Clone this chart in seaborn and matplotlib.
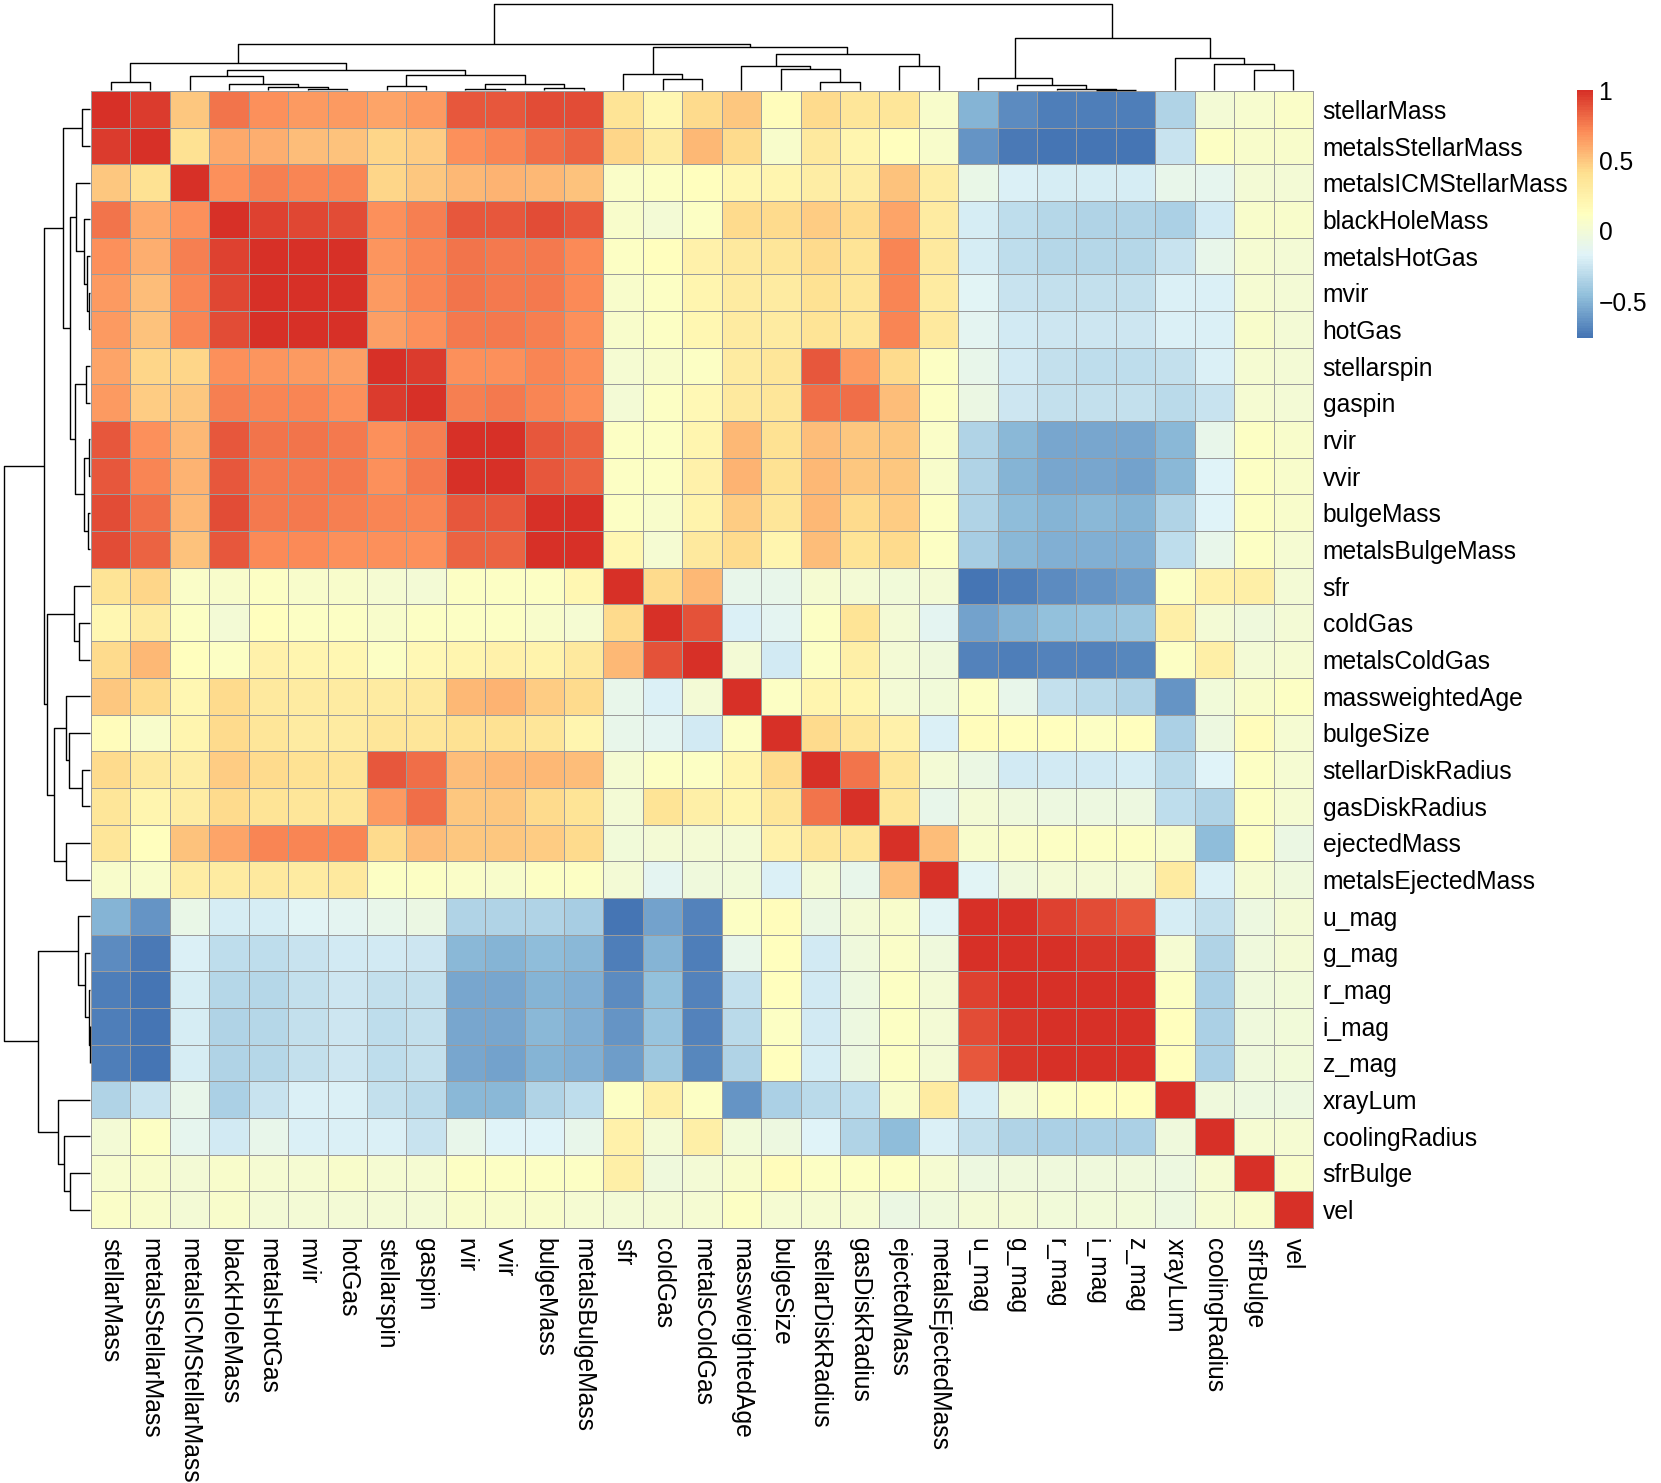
import numpy as np
import pandas as pd
import matplotlib
matplotlib.use("Agg")
import matplotlib.pyplot as plt
import seaborn as sns
from matplotlib.colors import LinearSegmentedColormap

# ---------------- data ----------------
variables = ["stellarMass", "metalsStellarMass", "metalsICMStellarMass", "blackHoleMass",
             "metalsHotGas", "mvir", "hotGas", "stellarspin", "gaspin", "rvir", "vvir",
             "bulgeMass", "metalsBulgeMass", "sfr", "coldGas", "metalsColdGas",
             "massweightedAge", "bulgeSize", "stellarDiskRadius", "gasDiskRadius",
             "ejectedMass", "metalsEjectedMass", "u_mag", "g_mag", "r_mag", "i_mag",
             "z_mag", "xrayLum", "coolingRadius", "sfrBulge", "vel"]

# correlation of each variable with every variable that follows it (upper triangle rows)
r_stellarMass = [0.95, 0.50, 0.78, 0.70, 0.66, 0.66, 0.62, 0.66, 0.86, 0.86, 0.90, 0.90, 0.38, 0.20, 0.43,
                 0.50, 0.15, 0.42, 0.36, 0.35, 0.06, -0.50, -0.66, -0.72, -0.72, -0.72, -0.35, 0.00, 0.04, 0.07]
r_metalsStellarMass = [0.40, 0.60, 0.58, 0.53, 0.52, 0.45, 0.48, 0.70, 0.72, 0.80, 0.84, 0.44, 0.30, 0.55,
                       0.43, 0.05, 0.33, 0.22, 0.12, 0.05, -0.62, -0.74, -0.76, -0.76, -0.76, -0.25, 0.10, 0.05, 0.05]
r_metalsICMStellarMass = [0.69, 0.74, 0.72, 0.72, 0.45, 0.50, 0.55, 0.56, 0.55, 0.52, 0.07, 0.10, 0.12,
                          0.20, 0.22, 0.28, 0.28, 0.52, 0.28, -0.08, -0.18, -0.20, -0.20, -0.20, -0.10, -0.12, 0.00, 0.00]
r_blackHoleMass = [0.93, 0.92, 0.91, 0.70, 0.75, 0.86, 0.86, 0.90, 0.86, 0.05, 0.00, 0.10, 0.43, 0.43, 0.48,
                   0.42, 0.62, 0.30, -0.20, -0.30, -0.33, -0.35, -0.35, -0.36, -0.23, 0.05, 0.05]
r_metalsHotGas = [0.99, 0.99, 0.67, 0.72, 0.78, 0.77, 0.76, 0.71, 0.10, 0.13, 0.25, 0.33, 0.35, 0.42, 0.38,
                  0.72, 0.32, -0.20, -0.30, -0.33, -0.33, -0.33, -0.25, -0.10, 0.03, 0.00]
r_mvir = [0.99, 0.65, 0.72, 0.78, 0.77, 0.76, 0.71, 0.05, 0.10, 0.22, 0.30, 0.30, 0.40, 0.36, 0.73, 0.30,
          -0.15, -0.26, -0.27, -0.27, -0.27, -0.18, -0.18, 0.03, 0.00]
r_hotGas = [0.64, 0.70, 0.76, 0.76, 0.74, 0.70, 0.05, 0.10, 0.20, 0.30, 0.30, 0.38, 0.35, 0.73, 0.33,
            -0.13, -0.23, -0.24, -0.24, -0.24, -0.18, -0.18, 0.05, 0.00]
r_stellarspin = [0.95, 0.70, 0.70, 0.72, 0.70, 0.03, 0.05, 0.10, 0.30, 0.35, 0.87, 0.66, 0.43, 0.10,
                 -0.10, -0.22, -0.28, -0.30, -0.30, -0.27, -0.18, 0.03, 0.00]
r_gaspin = [0.75, 0.77, 0.72, 0.70, 0.00, 0.10, 0.18, 0.32, 0.36, 0.80, 0.80, 0.53, 0.10,
            -0.07, -0.24, -0.28, -0.28, -0.28, -0.32, -0.25, 0.03, 0.00]
r_rvir = [0.99, 0.87, 0.84, 0.10, 0.10, 0.22, 0.55, 0.40, 0.54, 0.49, 0.50, 0.07,
          -0.35, -0.49, -0.55, -0.56, -0.56, -0.49, -0.10, 0.10, 0.05]
r_vvir = [0.87, 0.84, 0.10, 0.10, 0.25, 0.56, 0.40, 0.55, 0.49, 0.50, 0.05,
          -0.35, -0.50, -0.56, -0.56, -0.57, -0.49, -0.17, 0.10, 0.05]
r_bulgeMass = [0.99, 0.10, 0.05, 0.24, 0.48, 0.35, 0.55, 0.42, 0.48, 0.10,
               -0.35, -0.47, -0.51, -0.49, -0.51, -0.35, -0.17, 0.10, 0.05]
r_metalsBulgeMass = [0.20, 0.03, 0.33, 0.43, 0.22, 0.53, 0.37, 0.42, 0.10,
                     -0.38, -0.49, -0.52, -0.52, -0.53, -0.30, -0.10, 0.10, 0.03]
r_sfr = [0.43, 0.55, -0.10, -0.10, 0.03, 0.00, -0.02, 0.00, -0.76, -0.72, -0.67, -0.62, -0.60, 0.10, 0.25, 0.27, 0.00]
r_coldGas = [0.88, -0.18, -0.13, 0.10, 0.38, 0.00, -0.13, -0.57, -0.51, -0.46, -0.43, -0.41, 0.27, 0.00, -0.03, 0.00]
r_metalsColdGas = [0.00, -0.22, 0.10, 0.27, 0.00, -0.03, -0.70, -0.71, -0.70, -0.70, -0.68, 0.10, 0.27, 0.00, 0.03]
r_massweightedAge = [0.10, 0.22, 0.22, 0.00, -0.02, 0.10, -0.10, -0.27, -0.32, -0.34, -0.62, -0.02, 0.05, 0.10]
r_bulgeSize = [0.42, 0.35, 0.25, -0.18, 0.15, 0.12, 0.12, 0.10, 0.12, -0.37, -0.05, 0.15, 0.03]
r_stellarDiskRadius = [0.78, 0.35, 0.00, -0.06, -0.22, -0.22, -0.22, -0.21, -0.32, -0.17, 0.10, 0.03]
r_gasDiskRadius = [0.35, -0.10, 0.00, -0.03, -0.05, -0.05, -0.05, -0.30, -0.35, 0.10, 0.03]
r_ejectedMass = [0.53, 0.05, 0.08, 0.10, 0.10, 0.10, 0.05, -0.47, 0.10, -0.06]
r_metalsEjectedMass = [-0.15, -0.03, 0.00, 0.00, 0.00, 0.30, -0.18, 0.03, -0.03]
r_u_mag = [0.99, 0.93, 0.90, 0.87, -0.20, -0.28, -0.05, 0.00]
r_g_mag = [0.99, 0.98, 0.98, 0.03, -0.35, -0.03, 0.00]
r_r_mag = [0.995, 0.99, 0.10, -0.37, -0.03, -0.02]
r_i_mag = [0.995, 0.12, -0.37, -0.03, -0.02]
r_z_mag = [0.12, -0.37, -0.03, -0.02]
r_xrayLum = [-0.03, -0.05, -0.05]
r_coolingRadius = [0.03, 0.02]
r_sfrBulge = [0.05]

upper_rows = [r_stellarMass, r_metalsStellarMass, r_metalsICMStellarMass, r_blackHoleMass,
              r_metalsHotGas, r_mvir, r_hotGas, r_stellarspin, r_gaspin, r_rvir, r_vvir,
              r_bulgeMass, r_metalsBulgeMass, r_sfr, r_coldGas, r_metalsColdGas,
              r_massweightedAge, r_bulgeSize, r_stellarDiskRadius, r_gasDiskRadius,
              r_ejectedMass, r_metalsEjectedMass, r_u_mag, r_g_mag, r_r_mag, r_i_mag,
              r_z_mag, r_xrayLum, r_coolingRadius, r_sfrBulge]

# hierarchical merges (child a, child b, relative height); nodes >= 31 are earlier merges
merge_a = [25, 5, 9, 24, 11, 4, 7, 23, 3, 33, 0, 18, 14, 22, 2, 37, 13, 29, 45, 17, 16, 20, 28, 41, 27, 51, 47, 54, 44, 58]
merge_b = [26, 6, 10, 31, 12, 32, 8, 34, 36, 35, 1, 19, 15, 38, 39, 40, 43, 30, 46, 42, 50, 21, 48, 49, 53, 52, 56, 57, 55, 59]
merge_h = [0.005, 0.008, 0.008, 0.016, 0.027, 0.031, 0.047, 0.062, 0.074, 0.074, 0.097, 0.097, 0.128, 0.143,
           0.167, 0.178, 0.19, 0.236, 0.236, 0.244, 0.275, 0.283, 0.298, 0.31, 0.376, 0.415, 0.496, 0.539, 0.608, 1.0]

# ---------------- build matrix ----------------
n = len(variables)
M = np.eye(n)
for i, row in enumerate(upper_rows):
    for k, v in enumerate(row):
        j = i + 1 + k
        M[i, j] = v
        M[j, i] = v
df = pd.DataFrame(M, index=variables, columns=variables)

# ---------------- figure ----------------
plt.rcParams['font.family'] = ['Liberation Sans', 'DejaVu Sans']
W, H = 1661, 1483
fig = plt.figure(figsize=(W / 100, H / 100), dpi=100)


def px(x0, y0, x1, y1):
    return [x0 / W, 1 - y1 / H, (x1 - x0) / W, (y1 - y0) / H]


ax = fig.add_axes(px(91, 91, 1313, 1228))
cax = fig.add_axes(px(1577, 90, 1593, 338))
dtop = fig.add_axes(px(91, 4, 1313, 90))
dleft = fig.add_axes(px(4, 91, 90, 1228))

palette = ["#4575B4", "#91BFDB", "#E0F3F8", "#FFFFBF", "#FEE090", "#FC8D59", "#D73027"]
cmap = LinearSegmentedColormap.from_list("rdylbu_r", palette, N=100)

FS = 17.7
sns.heatmap(df, ax=ax, cmap=cmap, vmin=-0.76, vmax=1.0, linewidths=0.6, linecolor="#9c9c9c",
            cbar_ax=cax, xticklabels=variables, yticklabels=variables)
ax.collections[0].set_clip_on(False)
ax.set_xlabel("")
ax.set_ylabel("")
ax.yaxis.tick_right()
ax.set_yticks(np.arange(n) + 0.5)
ax.set_yticklabels(variables, rotation=0, va="center_baseline", fontsize=FS)
ax.set_xticks(np.arange(n) + 0.5)
ax.set_xticklabels(variables, rotation=270, ha="center", va="top", fontsize=FS)
ax.tick_params(axis="both", length=0)
ax.tick_params(axis="y", pad=7)
ax.tick_params(axis="x", pad=7)

cbar = ax.collections[0].colorbar
cbar.outline.set_visible(False)
cbar.set_ticks([-0.5, 0, 0.5, 1])
cbar.set_ticklabels(["\u22120.5", "0", "0.5", "1"])
cax.tick_params(length=0, labelsize=FS, pad=4)
for t in cax.get_yticklabels():
    t.set_va("center_baseline")

# ---------------- dendrograms ----------------
pos = {i: i + 0.5 for i in range(n)}
hgt = {i: 0.0 for i in range(n)}
lw = 1.0
for idx, (a, b, h) in enumerate(zip(merge_a, merge_b, merge_h)):
    node = n + idx
    pos[node] = (pos[a] + pos[b]) / 2
    hgt[node] = h
    dtop.plot([pos[a], pos[a], pos[b], pos[b]], [hgt[a], h, h, hgt[b]],
              color="black", lw=lw, clip_on=False, solid_capstyle="butt")
    dleft.plot([hgt[a], h, h, hgt[b]], [pos[a], pos[a], pos[b], pos[b]],
               color="black", lw=lw, clip_on=False, solid_capstyle="butt")

hmax = max(merge_h)
dtop.set_xlim(0, n)
dtop.set_ylim(0, hmax)
dtop.axis("off")
dleft.set_ylim(n, 0)
dleft.set_xlim(hmax, 0)
dleft.axis("off")

fig.savefig("out.png", dpi=100)
